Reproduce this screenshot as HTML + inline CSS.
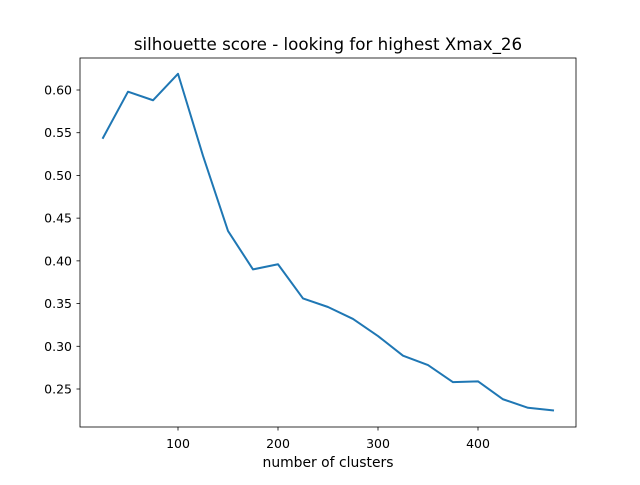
<!DOCTYPE html>
<html><head><meta charset="utf-8"><style>
body{margin:0;background:#fff;}
svg text{font-family:"DejaVu Sans","Liberation Sans",sans-serif;fill:#000;}
</style></head><body>
<svg id="chart" width="640" height="480" xmlns="http://www.w3.org/2000/svg">
<rect width="640" height="480" fill="#fff"/>
<text x="328" y="50" font-size="16.7" text-anchor="middle">silhouette score - looking for highest Xmax_26</text>
<text x="328" y="467" font-size="13.9" text-anchor="middle">number of clusters</text>
<g id="axes"></g>
<rect x="80" y="58" width="496" height="369" fill="none" stroke="#000" stroke-width="0.8"/>
</svg>
<script>
const clusters=[25,50,75,100,125,150,175,200,225,250,275,300,325,350,375,400,425,450,475];
const scores=[0.544,0.598,0.588,0.619,0.523,0.435,0.390,0.396,0.356,0.346,0.332,0.312,0.289,0.278,0.258,0.259,0.238,0.228,0.225];
const xTicks=[100,200,300,400];
const yTicks=[0.25,0.30,0.35,0.40,0.45,0.50,0.55,0.60];
const NS="http://www.w3.org/2000/svg";
const g=document.getElementById('axes');
function xs(v){return 78+v;}
function ys(v){return 90+(0.60-v)*854.3;}
function mk(t,a){const e=document.createElementNS(NS,t);for(const k in a)e.setAttribute(k,a[k]);g.appendChild(e);return e;}
xTicks.forEach(t=>{
  const l=mk('line',{x1:xs(t),x2:xs(t),y1:427,y2:430.5,stroke:'#000','stroke-width':0.8});
  
  
  const tx=mk('text',{x:xs(t),y:448,'font-size':12.5,'text-anchor':'middle'});
  tx.textContent=t;
  
  
});
yTicks.forEach(t=>{
  const l=mk('line',{x1:76.5,x2:80,y1:ys(t),y2:ys(t),stroke:'#000','stroke-width':0.8});
  
  
  const tx=mk('text',{x:72,y:ys(t)+4.5,'font-size':12.5,'text-anchor':'end'});
  tx.textContent=t.toFixed(2);
  
  
});
const pts=clusters.map((c,i)=>xs(c)+','+ys(scores[i])).join(' ');
const pl=mk('polyline',{points:pts,fill:'none',stroke:'#1f77b4','stroke-width':2,'stroke-linejoin':'round','stroke-linecap':'square'});


</script>
</body></html>
